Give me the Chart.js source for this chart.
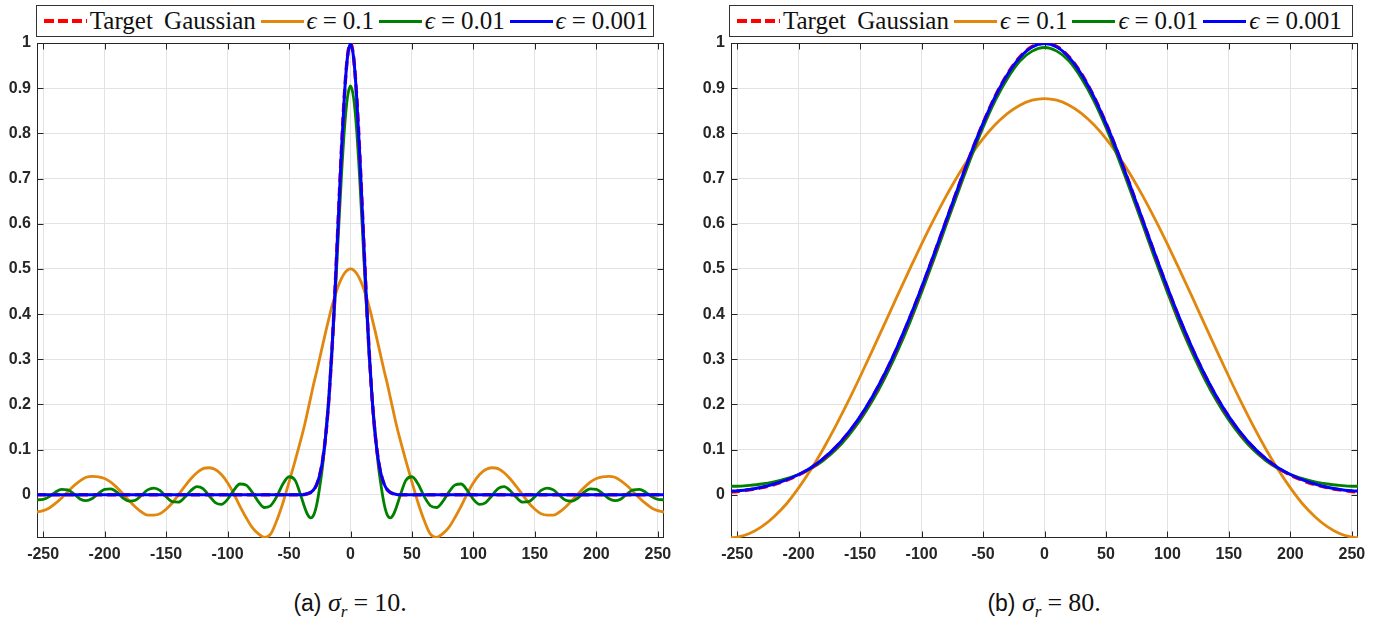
<!DOCTYPE html>
<html>
<head>
<meta charset="utf-8">
<script src="https://cdn.jsdelivr.net/npm/chart.js@4.4.0/dist/chart.umd.min.js"></script>
<style>
  body { margin: 0; width: 1381px; height: 628px; background: #fff; position: relative; overflow: hidden; }
  .panel { position: absolute; top: 0; height: 570px; }
  .legend { position: absolute; top: 5px; height: 32px; box-sizing: border-box; border: 1px solid #333;
            background: #fff; display: flex; align-items: center; padding-left: 7px;
            font-family: "Liberation Serif", serif; font-size: 25px; color: #111; white-space: nowrap; }
  .legend .sample { display: inline-block; width: 43px; height: 3px; margin-right: 3px; }
  .legend .txt { margin-right: 5px; }
  .eq { margin: 0 6px; }
  .caption { position: absolute; top: 588px; width: 400px; text-align: center;
             font-family: "Liberation Serif", serif; font-size: 26px; color: #111; }
  .caption .sf { font-family: "Liberation Sans", sans-serif; font-size: 23px; }
</style>
</head>
<body>
<div class="panel" style="left:0;width:690px"><canvas id="chartA"></canvas></div>
<div class="panel" style="left:694px;width:687px"><canvas id="chartB"></canvas></div>
<div class="legend" id="legendA" style="left:36px;width:618px"></div>
<div class="legend" id="legendB" style="left:729px;width:624px"></div>
<div class="caption" style="left:150px"><span class="sf">(a)</span> <i>σ<sub style="font-size:17px">r</sub></i><span class="eq">=</span>10.</div>
<div class="caption" style="left:844px"><span class="sf">(b)</span> <i>σ<sub style="font-size:17px">r</sub></i><span class="eq">=</span>80.</div>
<script>
// data
const seriesLabels = ['Target Gaussian', 'ϵ = 0.1', 'ϵ = 0.01', 'ϵ = 0.001'];
const xTicks = [-250, -200, -150, -100, -50, 0, 50, 100, 150, 200, 250];
const yTicks = [0, 0.1, 0.2, 0.3, 0.4, 0.5, 0.6, 0.7, 0.8, 0.9, 1];

// (a) sigma_r = 10
const xLeft = [-255,-250,-245,-240,-235,-230,-225,-220,-215,-210,-205,-200,-195,-190,-185,-180,-175,-170,-165,-160,-155,-150,-145,-140,-135,-130,-125,-120,-115,-110,-105,-100,-95,-90,-85,-80,-75,-70,-65,-60,-55,-50,-45,
  -40,-37.5,-35,-32.5,-30,-27.5,-25,-22.5,-20,-17.5,-15,-12.5,-10,-7.5,-5,-2.5,0,2.5,5,7.5,10,12.5,15,17.5,20,22.5,25,27.5,30,32.5,35,37.5,40,
  45,50,55,60,65,70,75,80,85,90,95,100,105,110,115,120,125,130,135,140,145,150,155,160,165,170,175,180,185,190,195,200,205,210,215,220,225,230,235,240,245,250,255];
const targetLeft = [0,0,0,0,0,0,0,0,0,0,0,0,0,0,0,0,0,0,0,0,0,0,0,0,0,0,0,0,0,0,0,0,0,0,0,0,0,0,0,0,0,0,0,
  0.0003,0.0009,0.0022,0.0051,0.0111,0.0228,0.0439,0.0796,0.1353,0.2163,0.3247,0.4578,0.6065,0.7548,0.8825,0.9692,1,0.9692,0.8825,0.7548,0.6065,0.4578,0.3247,0.2163,0.1353,0.0796,0.0439,0.0228,0.0111,0.0051,0.0022,0.0009,0.0003,
  0,0,0,0,0,0,0,0,0,0,0,0,0,0,0,0,0,0,0,0,0,0,0,0,0,0,0,0,0,0,0,0,0,0,0,0,0,0,0,0,0,0,0];
const eps1Left = [-0.038,-0.035,-0.029,-0.019,-0.007,0.007,0.02,0.031,0.039,0.041,0.04,0.036,0.028,0.016,0.002,-0.013,-0.027,-0.038,-0.045,-0.045,-0.042,-0.032,-0.018,0,0.018,0.035,0.049,0.058,0.06,0.056,0.045,0.027,0.003,-0.025,-0.05,-0.072,-0.086,-0.094,-0.087,-0.057,-0.018,0.028,0.076,
  0.126,0.153,0.183,0.214,0.245,0.273,0.303,0.333,0.363,0.391,0.418,0.441,0.4616,0.478,0.49,0.4975,0.5,0.4975,0.49,0.478,0.4616,0.441,0.418,0.391,0.363,0.333,0.303,0.273,0.245,0.214,0.183,0.153,0.126,
  0.076,0.028,-0.018,-0.057,-0.087,-0.094,-0.086,-0.072,-0.05,-0.025,0.003,0.027,0.045,0.056,0.06,0.058,0.049,0.035,0.018,0,-0.018,-0.032,-0.042,-0.045,-0.045,-0.038,-0.027,-0.013,0.002,0.016,0.028,0.036,0.04,0.041,0.039,0.031,0.02,0.007,-0.007,-0.019,-0.029,-0.035,-0.038];
const eps2Left = [-0.011,-0.01,-0.004,0.006,0.012,0.011,0.002,-0.009,-0.013,-0.008,0.003,0.012,0.013,0.006,-0.007,-0.014,-0.012,-0.001,0.011,0.015,0.01,-0.004,-0.015,-0.016,-0.006,0.009,0.018,0.014,-0.002,-0.017,-0.021,-0.01,0.01,0.024,0.022,0.006,-0.015,-0.028,-0.024,-0.004,0.024,0.04,0.032,
  -0.005,-0.026,-0.043,-0.051,-0.045,-0.022,0.018,0.068,0.14,0.219,0.32,0.439,0.57,0.698,0.807,0.879,0.905,0.879,0.807,0.698,0.57,0.439,0.32,0.219,0.14,0.068,0.018,-0.022,-0.045,-0.051,-0.043,-0.026,-0.005,
  0.032,0.04,0.024,-0.004,-0.024,-0.028,-0.015,0.006,0.022,0.024,0.01,-0.01,-0.021,-0.017,-0.002,0.014,0.018,0.009,-0.006,-0.016,-0.015,-0.004,0.01,0.015,0.011,-0.001,-0.012,-0.014,-0.007,0.006,0.013,0.012,0.003,-0.008,-0.013,-0.009,0.002,0.011,0.012,0.006,-0.004,-0.01,-0.011];
const eps3Left = [0,0,0,0,0,0,0,0,0,0,0,0,0,0,0,0,0,0,0,0,0,0,0,0,0,0,0,0,0,0,0,0,0,0,0,0,0,0,0,0,0,0,0,
  0.0004,0.001,0.0024,0.0053,0.0113,0.023,0.044,0.0795,0.135,0.216,0.3245,0.4575,0.606,0.754,0.8815,0.968,0.9985,0.968,0.8815,0.754,0.606,0.4575,0.3245,0.216,0.135,0.0795,0.044,0.023,0.0113,0.0053,0.0024,0.001,0.0004,
  0,0,0,0,0,0,0,0,0,0,0,0,0,0,0,0,0,0,0,0,0,0,0,0,0,0,0,0,0,0,0,0,0,0,0,0,0,0,0,0,0,0,0];

// (b) sigma_r = 80
const xRight = [-255,-250,-240,-230,-220,-210,-200,-190,-180,-170,-160,-150,-140,-130,-120,-110,-100,-90,-80,-70,-60,-50,-40,-30,-20,-10,0,10,20,30,40,50,60,70,80,90,100,110,120,130,140,150,160,170,180,190,200,210,220,230,240,250,255];
const targetRight = [0.0062,0.0076,0.0111,0.016,0.0228,0.0319,0.0439,0.0596,0.0796,0.1046,0.1353,0.1724,0.2163,0.2671,0.3247,0.3886,0.4578,0.5311,0.6065,0.6819,0.7548,0.8226,0.8825,0.9321,0.9692,0.9922,1,0.9922,0.9692,0.9321,0.8825,0.8226,0.7548,0.6819,0.6065,0.5311,0.4578,0.3886,0.3247,0.2671,0.2163,0.1724,0.1353,0.1046,0.0796,0.0596,0.0439,0.0319,0.0228,0.016,0.0111,0.0076,0.0062];
const eps1Right = [-0.095,-0.0936,-0.0857,-0.0705,-0.0483,-0.0203,0.0153,0.0559,0.1015,0.1514,0.205,0.2614,0.3197,0.3791,0.4386,0.4975,0.5547,0.6095,0.661,0.7085,0.7511,0.7884,0.8196,0.8444,0.8624,0.8734,0.877,0.8734,0.8624,0.8444,0.8196,0.7884,0.7511,0.7085,0.661,0.6095,0.5547,0.4975,0.4386,0.3791,0.3197,0.2614,0.205,0.1514,0.1015,0.0559,0.0153,-0.0203,-0.0483,-0.0705,-0.0857,-0.0936,-0.095];
const eps2Right = [0.019,0.019,0.021,0.024,0.029,0.036,0.045,0.058,0.076,0.099,0.129,0.165,0.208,0.258,0.315,0.378,0.448,0.521,0.597,0.672,0.745,0.813,0.873,0.922,0.96,0.982,0.99,0.982,0.96,0.922,0.873,0.813,0.745,0.672,0.597,0.521,0.448,0.378,0.315,0.258,0.208,0.165,0.129,0.099,0.076,0.058,0.045,0.036,0.029,0.024,0.021,0.019,0.019];
const eps3Right = [0.008,0.009,0.012,0.017,0.024,0.033,0.045,0.06,0.08,0.105,0.136,0.173,0.217,0.268,0.326,0.39,0.459,0.532,0.607,0.682,0.755,0.822,0.882,0.931,0.968,0.991,0.999,0.991,0.968,0.931,0.882,0.822,0.755,0.682,0.607,0.532,0.459,0.39,0.326,0.268,0.217,0.173,0.136,0.105,0.08,0.06,0.045,0.033,0.024,0.017,0.012,0.009,0.008];

const styles = [
  { color: '#ff0000', width: 3.5, dash: [9, 5], order: 1 },
  { color: '#e2870e', width: 2.8, dash: [], order: 3 },
  { color: '#008000', width: 2.8, dash: [], order: 2 },
  { color: '#0000ff', width: 3, dash: [], order: 0 }
];
const axisColor = '#262626';

// MATLAB style box with inward ticks
const boxPlugin = {
  id: 'box',
  beforeDatasetsDraw(chart) {
    const { ctx, chartArea: a, scales: { x, y } } = chart;
    ctx.save();
    ctx.strokeStyle = axisColor;
    ctx.lineWidth = 1;
    const l = Math.round(a.left) + 0.5, r = Math.round(a.right) - 0.5;
    const t = Math.round(a.top) + 0.5, b = Math.round(a.bottom) - 0.5;
    ctx.strokeRect(l, t, r - l, b - t);
    ctx.beginPath();
    xTicks.forEach(v => {
      const px = Math.round(x.getPixelForValue(v)) + 0.5;
      ctx.moveTo(px, b); ctx.lineTo(px, b - 6);
      ctx.moveTo(px, t); ctx.lineTo(px, t + 6);
    });
    yTicks.forEach(v => {
      const py = Math.round(y.getPixelForValue(v)) + 0.5;
      ctx.moveTo(l, py); ctx.lineTo(l + 6, py);
      ctx.moveTo(r, py); ctx.lineTo(r - 6, py);
    });
    ctx.stroke();
    ctx.restore();
  }
};

function makeChart(id, xs, ys, rightPad) {
  const datasets = ys.map((arr, i) => ({
    label: seriesLabels[i],
    data: xs.map((x, j) => ({ x: x, y: arr[j] })),
    borderColor: styles[i].color,
    borderWidth: styles[i].width,
    borderDash: styles[i].dash,
    order: styles[i].order,
    pointRadius: 0,
    fill: false,
    cubicInterpolationMode: 'monotone'
  }));
  const tickFont = { family: '"Liberation Sans", Arial, sans-serif', size: 16, weight: 'bold' };
  return new Chart(document.getElementById(id), {
    type: 'line',
    data: { datasets },
    plugins: [boxPlugin],
    options: {
      responsive: true,
      maintainAspectRatio: false,
      animation: false,
      layout: { padding: { top: 43, right: rightPad, left: 0, bottom: 0 } },
      plugins: { legend: { display: false }, tooltip: { enabled: false } },
      scales: {
        x: {
          type: 'linear', min: -255, max: 255,
          afterBuildTicks: s => { s.ticks = xTicks.map(v => ({ value: v })); },
          afterFit: s => { s.height = 32; },
          grid: { color: '#e3e3e3', drawTicks: false },
          border: { display: false },
          ticks: { font: tickFont, color: axisColor, padding: 7, maxRotation: 0 }
        },
        y: {
          type: 'linear', min: -0.0955, max: 1,
          afterBuildTicks: s => { s.ticks = yTicks.map(v => ({ value: v })); },
          afterFit: s => { s.width = 37; },
          grid: { color: '#e3e3e3', drawTicks: false },
          border: { display: false },
          ticks: { font: tickFont, color: axisColor, padding: 6, callback: v => String(v) }
        }
      }
    }
  });
}

function makeLegend(id) {
  const box = document.getElementById(id);
  seriesLabels.forEach((lab, i) => {
    const s = document.createElement('span');
    s.className = 'sample';
    if (styles[i].dash.length) {
      s.style.height = '4px';
      s.style.background = 'repeating-linear-gradient(90deg,' + styles[i].color + ' 0 10px, transparent 10px 14px)';
    } else {
      s.style.background = styles[i].color;
    }
    const t = document.createElement('span');
    t.className = 'txt';
    if (i === 0) {
      t.style.wordSpacing = '5px';
      t.textContent = lab;
    } else {
      t.innerHTML = lab.replace('ϵ', '<i>ϵ</i>').replace(' = ', '<span class="eq">=</span>');
    }
    box.appendChild(s);
    box.appendChild(t);
  });
}

makeChart('chartA', xLeft, [targetLeft, eps1Left, eps2Left, eps3Left], 26);
makeChart('chartB', xRight, [targetRight, eps1Right, eps2Right, eps3Right], 23);
makeLegend('legendA');
makeLegend('legendB');
</script>
</body>
</html>
